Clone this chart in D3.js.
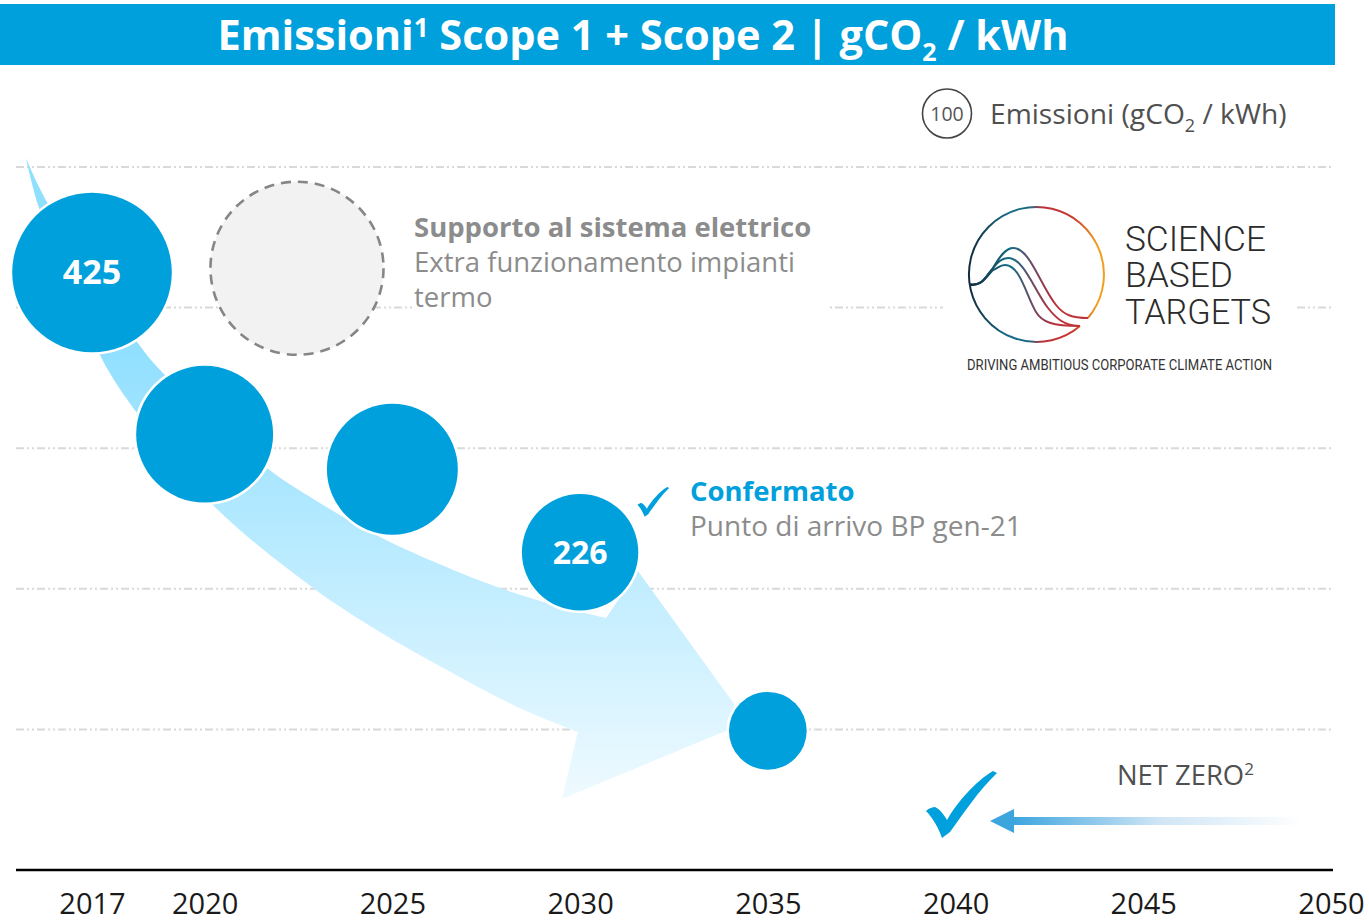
<!DOCTYPE html>
<html>
<head>
<meta charset="utf-8">
<script src="https://d3js.org/d3.v7.min.js"></script>
<style>
html, body { margin: 0; padding: 0; background: #fff; }
text { font-family: "Open Sans", "Noto Sans", sans-serif; }
</style>
</head>
<body>
<div id="chart"></div>
<script>
// years on the axis and horizontal guide levels
var tick_years = [2017, 2020, 2025, 2030, 2035, 2040, 2045, 2050];
var guide_levels = [500, 400, 300, 200, 100];

// the blue bubbles
var bubble_years = [2017, 2020, 2025, 2030, 2035];
var bubble_values = [425, 310, 285, 226, 99];
var bubble_sizes = [425, 313, 286, 226, 101];
var bubble_labels = ["425", "", "", "226", ""];

// the dashed bubble
var extra_year = [2022.46];
var extra_value = [428];
var extra_size = [500];

// outline of the big arrow, read as year / value pairs
var arrow_top_years = [2015.24, 2015.8, 2018.2, 2018.94, 2021.66, 2022.94, 2024.67, 2026.62, 2027.87, 2029.12, 2030.69];
var arrow_top_values = [506.4, 475.1, 375.5, 352.1, 285.9, 263.2, 236.8, 213.4, 200.6, 189.9, 179.2];
var arrow_head_years = [2031.54, 2034.45, 2029.52];
var arrow_head_values = [212.7, 105.3, 50.5];
var arrow_bottom_years = [2029.94, 2028.21, 2026.46, 2024.67, 2022.89, 2020.22, 2018.2, 2017.21, 2015.59, 2015.24];
var arrow_bottom_values = [98.2, 117.4, 142.2, 169.3, 200.6, 259.6, 325, 366.3, 470.8, 506.4];

var width = 1369, height = 923;

var x = d3.scaleLinear().domain([2017, 2050]).range([92, 1331]);
var y = d3.scaleLinear().domain([0, 500]).range([870, 167]);
var r = d3.scaleSqrt().domain([0, 100]).range([0, 38.7]);

var svg = d3.select("#chart").append("svg")
	.attr("width", width)
	.attr("height", height)
	.style("display", "block");

var defs = svg.append("defs");

var arrow_grad = defs.append("linearGradient")
	.attr("id", "arrow_grad")
	.attr("gradientUnits", "userSpaceOnUse")
	.attr("x1", 0).attr("y1", 340).attr("x2", 0).attr("y2", 800);
arrow_grad.append("stop").attr("offset", 0).attr("stop-color", "#8fdfff");
arrow_grad.append("stop").attr("offset", 0.39).attr("stop-color", "#b3e9ff");
arrow_grad.append("stop").attr("offset", 1).attr("stop-color", "#effaff");

var net_grad = defs.append("linearGradient").attr("id", "net_grad");
net_grad.append("stop").attr("offset", 0).attr("stop-color", "#3da5de");
net_grad.append("stop").attr("offset", 0.5).attr("stop-color", "#cfe5f5");
net_grad.append("stop").attr("offset", 1).attr("stop-color", "#ffffff");

var ring_grad = defs.append("linearGradient")
	.attr("id", "ring_grad")
	.attr("gradientUnits", "userSpaceOnUse")
	.attr("x1", 968).attr("y1", 0).attr("x2", 1104).attr("y2", 0);
ring_grad.append("stop").attr("offset", 0).attr("stop-color", "#14293c");
ring_grad.append("stop").attr("offset", 0.3).attr("stop-color", "#136c85");
ring_grad.append("stop").attr("offset", 0.45).attr("stop-color", "#1b6b85");
ring_grad.append("stop").attr("offset", 0.55).attr("stop-color", "#c0303a");
ring_grad.append("stop").attr("offset", 0.78).attr("stop-color", "#c83a30");
ring_grad.append("stop").attr("offset", 0.95).attr("stop-color", "#f0a020");

var wave_grad = defs.append("linearGradient")
	.attr("id", "wave_grad")
	.attr("gradientUnits", "userSpaceOnUse")
	.attr("x1", 968).attr("y1", 0).attr("x2", 1085).attr("y2", 0);
wave_grad.append("stop").attr("offset", 0).attr("stop-color", "#14293c");
wave_grad.append("stop").attr("offset", 0.36).attr("stop-color", "#136c85");
wave_grad.append("stop").attr("offset", 0.58).attr("stop-color", "#7a4560");
wave_grad.append("stop").attr("offset", 0.75).attr("stop-color", "#bd3038");
wave_grad.append("stop").attr("offset", 1).attr("stop-color", "#c0353a");

// title bar
svg.append("rect")
	.attr("x", 0).attr("y", 4)
	.attr("width", 1335).attr("height", 61)
	.attr("fill", "#00a0dc");

var title = svg.append("text")
	.attr("x", 643).attr("y", 50)
	.attr("text-anchor", "middle")
	.attr("fill", "#fff")
	.attr("font-size", 41.5)
	.attr("font-weight", 700);
title.append("tspan").text("Emissioni");
title.append("tspan").attr("font-size", 26).attr("dy", -13).text("1");
title.append("tspan").attr("dy", 13).text(" Scope 1 + Scope 2 | gCO");
title.append("tspan").attr("font-size", 25).attr("dy", 11).text("2");
title.append("tspan").attr("dy", -11).text(" / kWh");

// guides
svg.selectAll(".guide").data(guide_levels).enter().append("line")
	.attr("class", "guide")
	.attr("x1", 16).attr("x2", 1331)
	.attr("y1", function(d) { return y(d); })
	.attr("y2", function(d) { return y(d); })
	.attr("stroke", "#d9d9d9")
	.attr("stroke-width", 2)
	.attr("stroke-dasharray", "8 3 2 3 2 3");

// white boxes behind the note and the logo hide part of the 400 guide
svg.append("rect").attr("x", 412).attr("y", 290).attr("width", 417).attr("height", 30).attr("fill", "#fff");
svg.append("rect").attr("x", 943).attr("y", 290).attr("width", 354).attr("height", 30).attr("fill", "#fff");

// big arrow
function to_points(years, values) {
	return years.map(function(d, i) { return [x(d), y(values[i])]; });
}
var arrow_line = d3.line().curve(d3.curveCatmullRom.alpha(0.5));
var arrow_d = arrow_line(to_points(arrow_top_years, arrow_top_values));
to_points(arrow_head_years, arrow_head_values).forEach(function(p) { arrow_d += "L" + p.join(","); });
arrow_d += "L" + arrow_line(to_points(arrow_bottom_years, arrow_bottom_values)).slice(1) + "Z";

svg.append("path")
	.attr("d", arrow_d)
	.attr("fill", "url(#arrow_grad)");

// dashed bubble
svg.selectAll(".extra").data(extra_year).enter().append("circle")
	.attr("class", "extra")
	.attr("cx", function(d) { return x(d); })
	.attr("cy", function(d, i) { return y(extra_value[i]); })
	.attr("r", function(d, i) { return r(extra_size[i]); })
	.attr("fill", "#f2f2f2")
	.attr("stroke", "#868686")
	.attr("stroke-width", 2.6)
	.attr("stroke-dasharray", "10 7");

// bubbles
var bubble = svg.selectAll(".bubble").data(bubble_years).enter().append("g").attr("class", "bubble");
bubble.append("circle")
	.attr("cx", function(d) { return x(d); })
	.attr("cy", function(d, i) { return y(bubble_values[i]); })
	.attr("r", function(d, i) { return r(bubble_sizes[i]); })
	.attr("fill", "#00a0dc")
	.attr("stroke", "#fff")
	.attr("stroke-width", 5)
	.style("paint-order", "stroke");
bubble.append("text")
	.attr("x", function(d) { return x(d); })
	.attr("y", function(d, i) { return y(bubble_values[i]) + 12; })
	.attr("text-anchor", "middle")
	.attr("fill", "#fff")
	.attr("font-size", function(d, i) { return bubble_values[i] > 300 ? 34 : 32; })
	.attr("font-weight", 700)
	.text(function(d, i) { return bubble_labels[i]; });

// x axis
var x_axis = d3.axisBottom(x).tickValues(tick_years).tickFormat(d3.format("d")).tickSize(0).tickPadding(23.5);
var axis_g = svg.append("g").attr("transform", "translate(0,870)").call(x_axis);
axis_g.select(".domain").remove();
axis_g.append("line").attr("x1", 16).attr("x2", 1333).attr("stroke", "#000").attr("stroke-width", 2.5);
axis_g.selectAll(".tick text")
	.attr("fill", "#1a1a1a")
	.attr("font-size", 29)
	.style("font-family", '"Open Sans", "Noto Sans", sans-serif');

// legend
svg.append("circle").attr("cx", 947).attr("cy", 113.5).attr("r", 24.5).attr("fill", "#fff").attr("stroke", "#444").attr("stroke-width", 1.6);
svg.append("text").attr("x", 947).attr("y", 121).attr("text-anchor", "middle").attr("fill", "#555").attr("font-size", 19.5).text("100");
var legend = svg.append("text").attr("x", 990).attr("y", 124).attr("fill", "#505050").attr("font-size", 28.2);
legend.append("tspan").text("Emissioni (gCO");
legend.append("tspan").attr("font-size", 18).attr("dy", 8).text("2");
legend.append("tspan").attr("dy", -8).text(" / kWh)");

// notes
svg.append("text").attr("x", 414).attr("y", 237).attr("fill", "#8c8c8c").attr("font-size", 27.5).attr("font-weight", 700).text("Supporto al sistema elettrico");
svg.append("text").attr("x", 414).attr("y", 272).attr("fill", "#8c8c8c").attr("font-size", 27.5).text("Extra funzionamento impianti");
svg.append("text").attr("x", 414).attr("y", 307).attr("fill", "#8c8c8c").attr("font-size", 27.5).text("termo");
svg.append("text").attr("x", 690).attr("y", 501).attr("fill", "#00a0dc").attr("font-size", 27.5).attr("font-weight", 700).text("Confermato");
svg.append("text").attr("x", 690).attr("y", 536).attr("fill", "#8c8c8c").attr("font-size", 28).text("Punto di arrivo BP gen-21");

// check marks
var check_d = "M0,40 C3,37 7,36 9,36 C14,38 18,44 21,49 C32,30 50,10 67,0 L71,2 C52,20 38,42 24,61 L16,67 C13,58 7,47 0,40 Z";
svg.append("path").attr("d", check_d).attr("fill", "#00a0dc").attr("transform", "translate(926,771)");
svg.append("path").attr("d", check_d).attr("fill", "#00a0dc").attr("transform", "translate(637.5,487) scale(0.445)");

// net zero
var net = svg.append("text").attr("x", 1117).attr("y", 785).attr("fill", "#505050").attr("font-size", 27.4);
net.append("tspan").text("NET ZERO");
net.append("tspan").attr("font-size", 17).attr("dy", -10).text("2");
svg.append("rect").attr("x", 1013).attr("y", 817).attr("width", 290).attr("height", 8).attr("fill", "url(#net_grad)");
svg.append("path").attr("d", "M990,821 L1014,809 L1014,833 Z").attr("fill", "#3da5de");

// logo
var logo = svg.append("g");
logo.append("path")
	.attr("d", "M1080,326 A67.5,67.5 0 1 1 1088,318")
	.attr("fill", "none").attr("stroke", "url(#ring_grad)").attr("stroke-width", 2);
var wave_ends = [
	"M970,284.5 C982,286 985,278 993,268 C1000,256 1006,248 1013,248 C1030,248 1040,285 1056,305 C1064,315 1072,318 1088,318",
	"M970,284.5 C982,286 985,278 993,268 C998,262 1002,258 1008,258 C1024,258 1034,290 1048,308 C1056,318 1064,326 1080,326",
	"M970,284.5 C982,286 985,278 993,270 C998,268 1000,265 1005,265 C1020,265 1026,295 1036,312 C1042,322 1052,326 1080,326"
];
logo.selectAll(".wave").data(wave_ends).enter().append("path")
	.attr("class", "wave")
	.attr("d", function(d) { return d; })
	.attr("fill", "none").attr("stroke", "url(#wave_grad)").attr("stroke-width", 2);
var logo_lines = [["SCIENCE", 251, 141], ["BASED", 287, 108], ["TARGETS", 324, 146]];
logo.selectAll(".logotext").data(logo_lines).enter().append("text")
	.attr("class", "logotext")
	.attr("x", 1125)
	.attr("y", function(d) { return d[1]; })
	.attr("textLength", function(d) { return d[2]; })
	.attr("lengthAdjust", "spacingAndGlyphs")
	.attr("fill", "#2b2b2b")
	.attr("font-size", 34.5)
	.attr("font-weight", 300)
	.style("font-family", "Roboto, 'Liberation Sans', sans-serif")
	.text(function(d) { return d[0]; });
logo.append("text")
	.attr("x", 967).attr("y", 370)
	.attr("fill", "#333")
	.attr("font-size", 15)
	.attr("textLength", 305)
	.attr("lengthAdjust", "spacingAndGlyphs")
	.style("font-family", "Roboto, 'Liberation Sans', sans-serif")
	.text("DRIVING AMBITIOUS CORPORATE CLIMATE ACTION");
</script>
</body>
</html>
